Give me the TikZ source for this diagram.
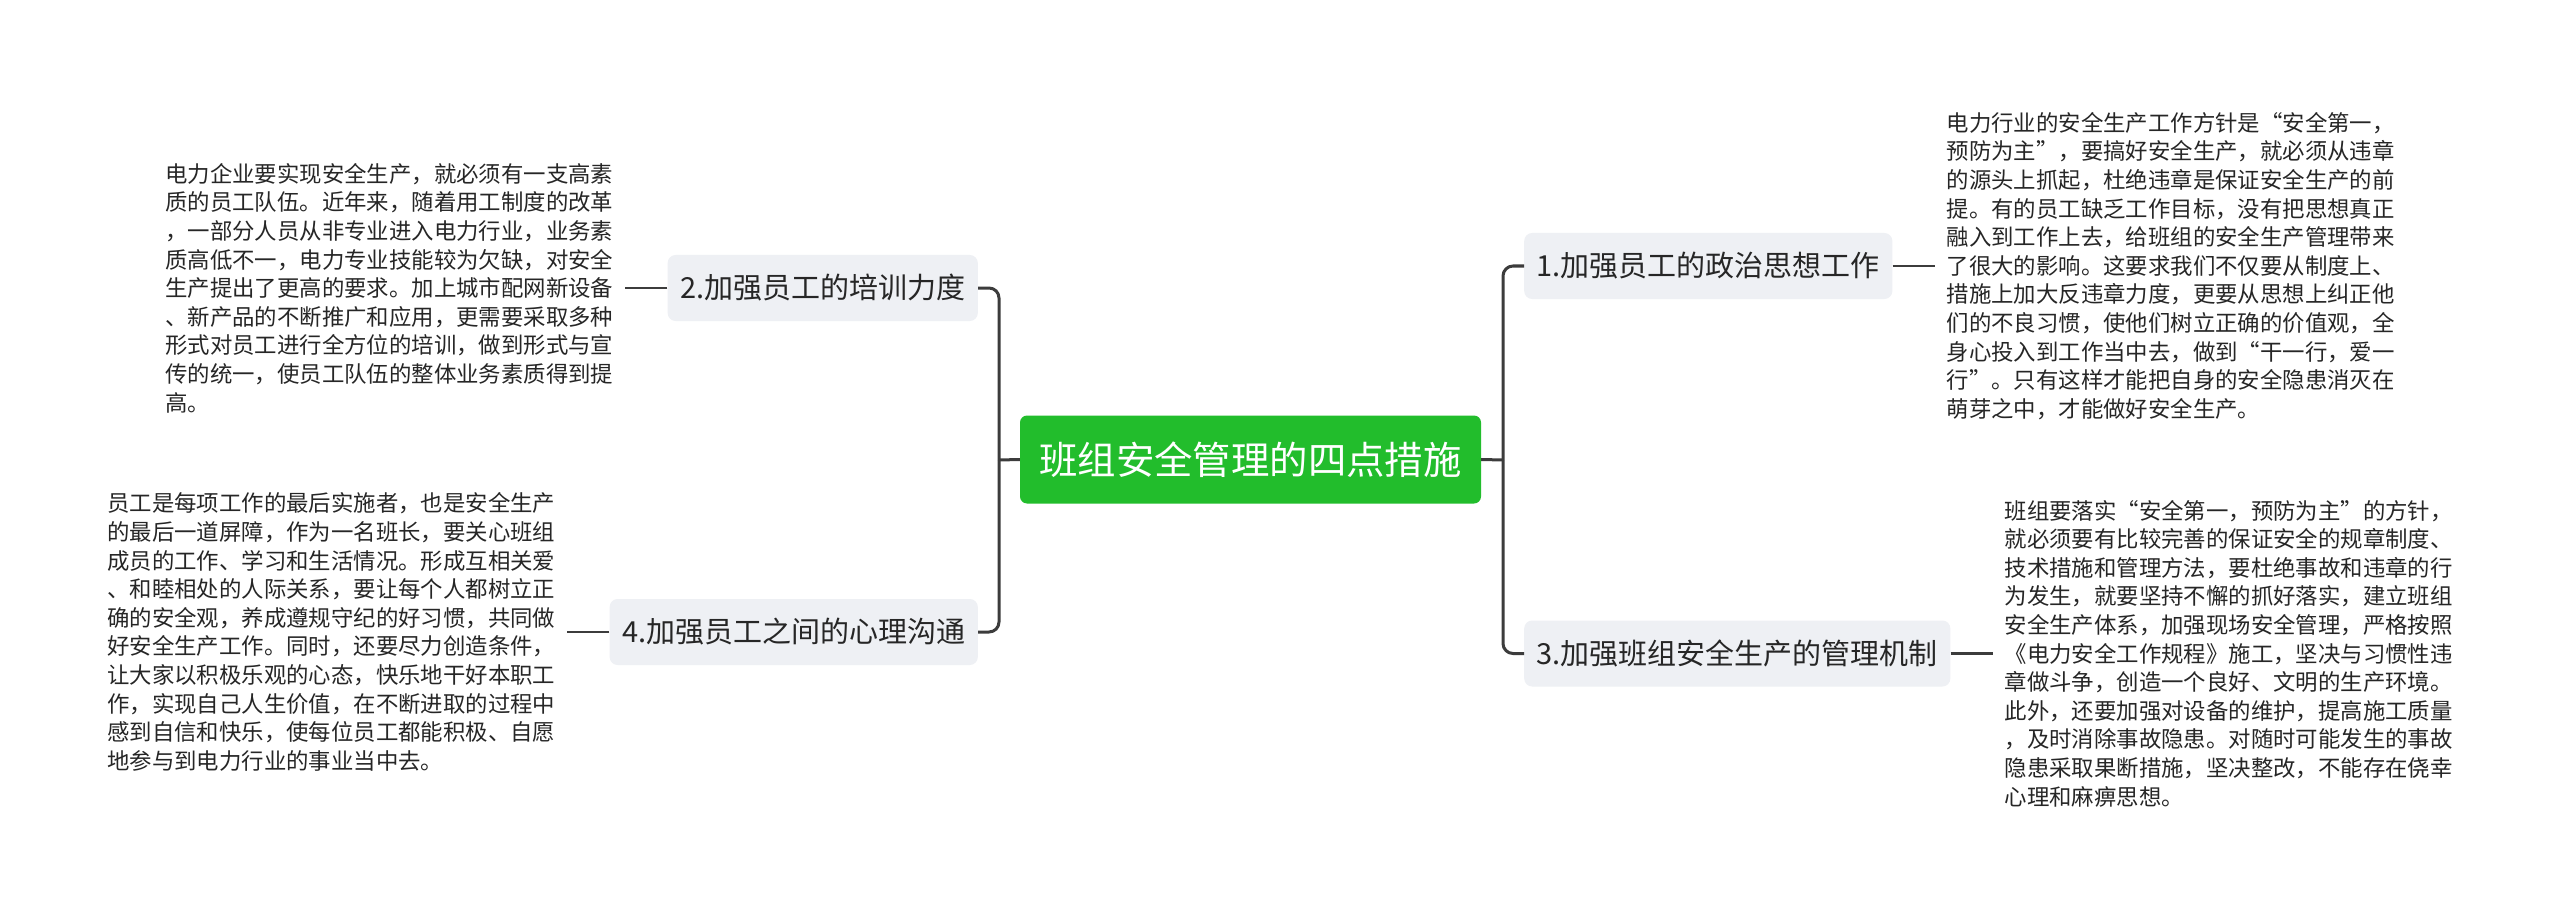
\documentclass[tikz,border=0pt]{standalone}
\usepackage{fontspec}
\setmainfont{Noto Sans CJK SC}
\usetikzlibrary{positioning}

\begin{document}
\begin{tikzpicture}[x=1pt, y=-1pt,
    rootbox/.style={fill=rootColour, text=white, rounded corners=7pt, minimum width=461pt, minimum height=88pt, inner sep=0pt, font=\fontsize{38.4}{46}\selectfont},
    branchbox/.style={fill=boxColour, text=textColour, rounded corners=8pt, minimum height=66pt, inner xsep=12.5pt, inner ysep=0pt, font=\fontsize{29}{35}\selectfont},
    leaftext/.style={text=textColour, align=left, inner sep=0pt, font=\fontsize{22.4}{28.6}\selectfont},
    trunk/.style={draw=lineColour, line width=3pt, rounded corners=10pt},
    twig/.style={draw=lineColour, line width=2.5pt}]

    % Define colours
    \definecolor{rootColour}{HTML}{22BD2C}
    \definecolor{boxColour}{HTML}{EEF0F4}
    \definecolor{lineColour}{HTML}{3C3C3C}
    \definecolor{textColour}{HTML}{262626}

    % Fix the page size
    \useasboundingbox[fill=white] (0,0) rectangle (2560,920);

    % Draw the central topic
    \node[rootbox] (root) at (1250.5,459.5) {班组安全管理的四点措施};

    % Draw the four measures
    \node[branchbox, anchor=west] (b1) at (1524,266) {1.加强员工的政治思想工作};
    \node[branchbox, anchor=east] (b2) at (978,288) {2.加强员工的培训力度};
    \node[branchbox, anchor=west] (b3) at (1524,653.5) {3.加强班组安全生产的管理机制};
    \node[branchbox, anchor=east] (b4) at (978,632) {4.加强员工之间的心理沟通};

    % Define the trunk points
    \coordinate (lt) at (999,460);
    \coordinate (rt) at (1503,460);

    % Draw the trunks
    \draw[trunk] (root.west) -- (lt);
    \draw[trunk] (b2.east) -| (lt);
    \draw[trunk] (b4.east) -| (lt);
    \draw[trunk] (root.east) -- (rt);
    \draw[trunk] (b1.west) -| (rt);
    \draw[trunk] (b3.west) -| (rt);

    % Define the ends of the twigs
    \coordinate (c1) at ([xshift=42pt]b1.east);
    \coordinate (c2) at ([xshift=-42pt]b2.west);
    \coordinate (c3) at ([xshift=42pt]b3.east);
    \coordinate (c4) at ([xshift=-42pt]b4.west);

    % Draw the explanations
    \node[leaftext, right=12pt of c1] (t1) {电力行业的安全生产工作方针是“安全第一，\\
        预防为主”，要搞好安全生产，就必须从违章\\
        的源头上抓起，杜绝违章是保证安全生产的前\\
        提。有的员工缺乏工作目标，没有把思想真正\\
        融入到工作上去，给班组的安全生产管理带来\\
        了很大的影响。这要求我们不仅要从制度上、\\
        措施上加大反违章力度，更要从思想上纠正他\\
        们的不良习惯，使他们树立正确的价值观，全\\
        身心投入到工作当中去，做到“干一行，爱一\\
        行”。只有这样才能把自身的安全隐患消灭在\\
        萌芽之中，才能做好安全生产。};
    \node[leaftext, left=12pt of c2] (t2) {电力企业要实现安全生产，就必须有一支高素\\
        质的员工队伍。近年来，随着用工制度的改革\\
        ，一部分人员从非专业进入电力行业，业务素\\
        质高低不一，电力专业技能较为欠缺，对安全\\
        生产提出了更高的要求。加上城市配网新设备\\
        、新产品的不断推广和应用，更需要采取多种\\
        形式对员工进行全方位的培训，做到形式与宣\\
        传的统一，使员工队伍的整体业务素质得到提\\
        高。};
    \node[leaftext, right=12pt of c3] (t3) {班组要落实“安全第一，预防为主”的方针，\\
        就必须要有比较完善的保证安全的规章制度、\\
        技术措施和管理方法，要杜绝事故和违章的行\\
        为发生，就要坚持不懈的抓好落实，建立班组\\
        安全生产体系，加强现场安全管理，严格按照\\
        《电力安全工作规程》施工，坚决与习惯性违\\
        章做斗争，创造一个良好、文明的生产环境。\\
        此外，还要加强对设备的维护，提高施工质量\\
        ，及时消除事故隐患。对随时可能发生的事故\\
        隐患采取果断措施，坚决整改，不能存在侥幸\\
        心理和麻痹思想。};
    \node[leaftext, left=12pt of c4] (t4) {员工是每项工作的最后实施者，也是安全生产\\
        的最后一道屏障，作为一名班长，要关心班组\\
        成员的工作、学习和生活情况。形成互相关爱\\
        、和睦相处的人际关系，要让每个人都树立正\\
        确的安全观，养成遵规守纪的好习惯，共同做\\
        好安全生产工作。同时，还要尽力创造条件，\\
        让大家以积极乐观的心态，快乐地干好本职工\\
        作，实现自己人生价值，在不断进取的过程中\\
        感到自信和快乐，使每位员工都能积极、自愿\\
        地参与到电力行业的事业当中去。};

    % Draw the twigs
    \draw[twig] (b1.east) -- (c1);
    \draw[twig] (b2.west) -- (c2);
    \draw[twig] (b3.east) -- (c3);
    \draw[twig] (b4.west) -- (c4);

\end{tikzpicture}
\end{document}
